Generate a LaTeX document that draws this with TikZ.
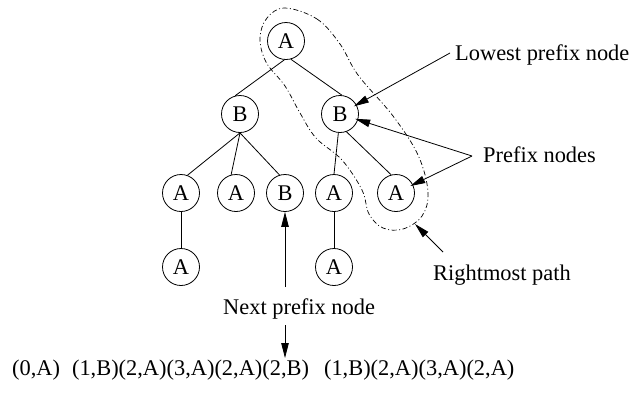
\documentclass[tikz,border=0pt]{standalone}
\usepackage{fontspec}
\setmainfont{Liberation Serif}
\usetikzlibrary{arrows.meta}
\begin{document}
\begin{tikzpicture}[x=1pt,y=-1pt,
  tnode/.style={circle,draw,line width=0.8pt,minimum size=37pt,inner sep=0pt,
                font=\fontsize{22.4}{26}\selectfont},
  treeedge/.style={line width=0.8pt},
  caption/.style={anchor=base west,inner sep=0pt,font=\fontsize{22.4}{26}\selectfont},
  pointer/.style={line width=0.8pt,-{Triangle[length=15pt,width=7.5pt]}},
  pathmark/.style={line width=0.7pt,dash pattern=on 5pt off 2.5pt on 1pt off 2.5pt}]
\useasboundingbox (0,0) rectangle (631,392);

% tree
\node[tnode] (r)  at (286,41)  {A};
\node[tnode] (b1) at (240,114) {B};
\node[tnode] (b2) at (340,114) {B};
\node[tnode] (a1) at (181,193) {A};
\node[tnode] (a2) at (236,193) {A};
\node[tnode] (b3) at (285,193) {B};
\node[tnode] (a3) at (334,193) {A};
\node[tnode] (a4) at (396,193) {A};
\node[tnode] (a5) at (181,267) {A};
\node[tnode] (a6) at (334,267) {A};

\draw[treeedge] (r.265) -- (b1.105);
\draw[treeedge] (r.285) -- (b2.84);
\draw[treeedge] (b1.south) -- (a1.70);
\draw[treeedge] (b1.south) -- (a2.105);
\draw[treeedge] (b1.south) -- (b3.107);
\draw[treeedge] (b2.265) -- (a3.north);
\draw[treeedge] (b2.290) -- (a4.105);
\draw[treeedge] (a1) -- (a5);
\draw[treeedge] (a3) -- (a6);

% rightmost path outline
\draw[pathmark] plot[smooth cycle, tension=0.6] coordinates {
  (285,8) (317,19) (340,44) (358,75) (393,116) (418,155) (428,192)
  (422,216) (403,229) (383,228) (369,214) (362,190) (342,160) (316,138)
  (300,113) (285,86) (266,62) (260,38) (267,18)};
\coordinate (rp) at (415,224);

% captions
\node[caption] (lpn) at (455,60)  {Lowest prefix node};
\node[caption] (pn)  at (483,162) {Prefix nodes};
\node[caption] (rmp) at (433,280) {Rightmost path};
\node[caption] (npn) at (223,314) {Next prefix node};
\node[caption] (seq) at (12,375)
  {(0,A)\hspace{12pt}(1,B)(2,A)(3,A)(2,A)(2,B)\hspace{15pt}(1,B)(2,A)(3,A)(2,A)};

\coordinate (lpnS) at (450,53);
\coordinate (pnS)  at (472,156);
\coordinate (rmpS) at (443,252);
\coordinate (npnUp) at (285,287);
\coordinate (npnDn) at (285,325);
\coordinate (seqTop) at (285,358);

% pointers
\draw[pointer,shorten >=-3pt] (lpnS) -- (b2);
\draw[pointer,shorten >=-3pt] (pnS) -- (b2);
\draw[pointer,shorten >=-3pt] (pnS) -- (a4);
\draw[pointer] (rmpS) -- (rp);
\draw[pointer] (npnUp) -- (b3.south);
\draw[pointer] (npnDn) -- (seqTop);
\end{tikzpicture}
\end{document}
